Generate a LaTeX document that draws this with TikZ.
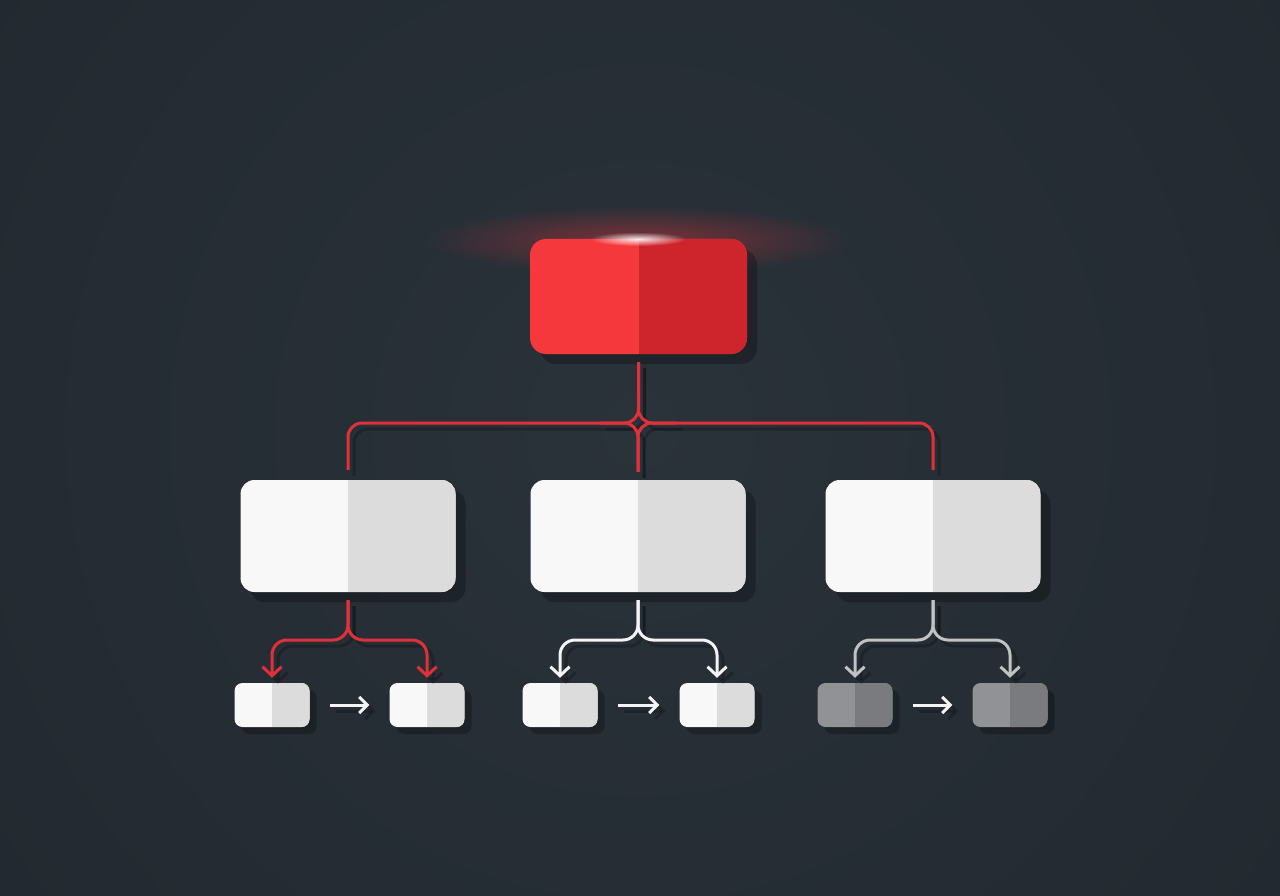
\documentclass[tikz,border=0pt]{standalone}
\usetikzlibrary{arrows.meta,shadows,fadings}
\definecolor{bgC}{HTML}{2A323A}
\definecolor{bgE}{HTML}{1F252B}
\definecolor{redL}{HTML}{F5383C}
\definecolor{redR}{HTML}{CE252C}
\definecolor{lineR}{HTML}{E0313A}
\definecolor{glowR}{HTML}{E0313A}
\definecolor{wL}{HTML}{F8F8F8}
\definecolor{wR}{HTML}{DCDCDC}
\definecolor{gL}{HTML}{909295}
\definecolor{gR}{HTML}{797B7E}
\definecolor{lineG}{HTML}{C0C2C4}
\definecolor{lineW}{HTML}{F4F4F4}
\tikzfading[name=glowfade, inner color=transparent!0, outer color=transparent!100]
\newcommand\conn[2]{\draw[#1,shadowed] #2; \draw[#1] #2;}
\begin{document}
\begin{tikzpicture}[x=1pt,y=-1pt,
  half/.style={path picture={\fill[#1, sharp corners] (path picture bounding box.south) rectangle (path picture bounding box.north east);}},
  box/.style={rounded corners=14pt, minimum width=215pt, minimum height=112pt, inner sep=0pt,
    drop shadow={shadow xshift=10pt, shadow yshift=-10pt, fill=black, opacity=0.25}},
  small/.style={rounded corners=8pt, minimum width=75pt, minimum height=44pt, inner sep=0pt,
    drop shadow={shadow xshift=7pt, shadow yshift=-7pt, fill=black, opacity=0.25}},
  link/.style={draw=#1, line width=3pt, rounded corners=14pt},
  tip/.style={-{Straight Barb[length=9pt,width=19pt]}},
  smalltip/.style={-{Straight Barb[length=8pt,width=16pt]}},
  shadowed/.style={draw=black, draw opacity=0.22, transform canvas={shift={(6pt,-6pt)}}}
]
\useasboundingbox (0,0) rectangle (1280,896);
% background
\begin{scope}
  \clip (0,0) rectangle (1280,896);
  \fill[bgE] (0,0) rectangle (1280,896);
  \shade[inner color=bgC, outer color=bgE] (640,430) circle (1150);
\end{scope}
% glow behind root
\fill[glowR, path fading=glowfade, fill opacity=0.45] (638,240) ellipse (215 and 34);

% boxes
\node[box, fill=redL, half=redR, minimum width=217pt, minimum height=115pt, rounded corners=16pt] (root) at (638.5,296.5) {};
\node[box, fill=wL, half=wR] (a) at (348,536) {};
\node[box, fill=wL, half=wR] (b) at (638,536) {};
\node[box, fill=wL, half=wR] (c) at (933,536) {};

\node[small, fill=wL, half=wR] (a1) at (272,705) {};
\node[small, fill=wL, half=wR] (a2) at (427,705) {};
\node[small, fill=wL, half=wR] (b1) at (560,705) {};
\node[small, fill=wL, half=wR] (b2) at (717,705) {};
\node[small, fill=gL, half=gR] (c1) at (855,705) {};
\node[small, fill=gL, half=gR] (c2) at (1010,705) {};

% highlight on root
\fill[white, path fading=glowfade, fill opacity=0.9] (638,239) ellipse (48 and 7);

% helper coordinates
\coordinate (hy) at (0,423);
\coordinate (ly) at (0,640);
\coordinate (jl) at (600,423);
\coordinate (jr) at (676,423);

% top bracket
\conn{link=lineR, shorten <=8pt, shorten >=10pt}{(root.south) -- (root.south |- hy) -- (a.north |- hy) -- (a.north)}
\conn{link=lineR, shorten <=8pt, shorten >=10pt}{(root.south) -- (root.south |- hy) -- (c.north |- hy) -- (c.north)}
\conn{link=lineR, shorten >=8pt}{(jl) -- (b.north |- hy) -- (b.north)}
\conn{link=lineR, shorten >=8pt}{(jr) -- (b.north |- hy) -- (b.north)}

% lower forks
\conn{link=lineR, tip, rounded corners=15pt, shorten <=8pt, shorten >=5pt}{(a.south) -- (a.south |- ly) -- (a1.north |- ly) -- (a1.north)}
\conn{link=lineR, tip, rounded corners=15pt, shorten <=8pt, shorten >=5pt}{(a.south) -- (a.south |- ly) -- (a2.north |- ly) -- (a2.north)}
\conn{link=lineW, tip, rounded corners=15pt, shorten <=8pt, shorten >=5pt}{(b.south) -- (b.south |- ly) -- (b1.north |- ly) -- (b1.north)}
\conn{link=lineW, tip, rounded corners=15pt, shorten <=8pt, shorten >=5pt}{(b.south) -- (b.south |- ly) -- (b2.north |- ly) -- (b2.north)}
\conn{link=lineG, tip, rounded corners=15pt, shorten <=8pt, shorten >=5pt}{(c.south) -- (c.south |- ly) -- (c1.north |- ly) -- (c1.north)}
\conn{link=lineG, tip, rounded corners=15pt, shorten <=8pt, shorten >=5pt}{(c.south) -- (c.south |- ly) -- (c2.north |- ly) -- (c2.north)}

% sequence arrows
\conn{link=lineW, smalltip, shorten <=20pt, shorten >=20pt}{(a1.east) -- (a2.west)}
\conn{link=lineW, smalltip, shorten <=20pt, shorten >=20pt}{(b1.east) -- (b2.west)}
\conn{link=lineW, smalltip, shorten <=20pt, shorten >=20pt}{(c1.east) -- (c2.west)}
\end{tikzpicture}
\end{document}
